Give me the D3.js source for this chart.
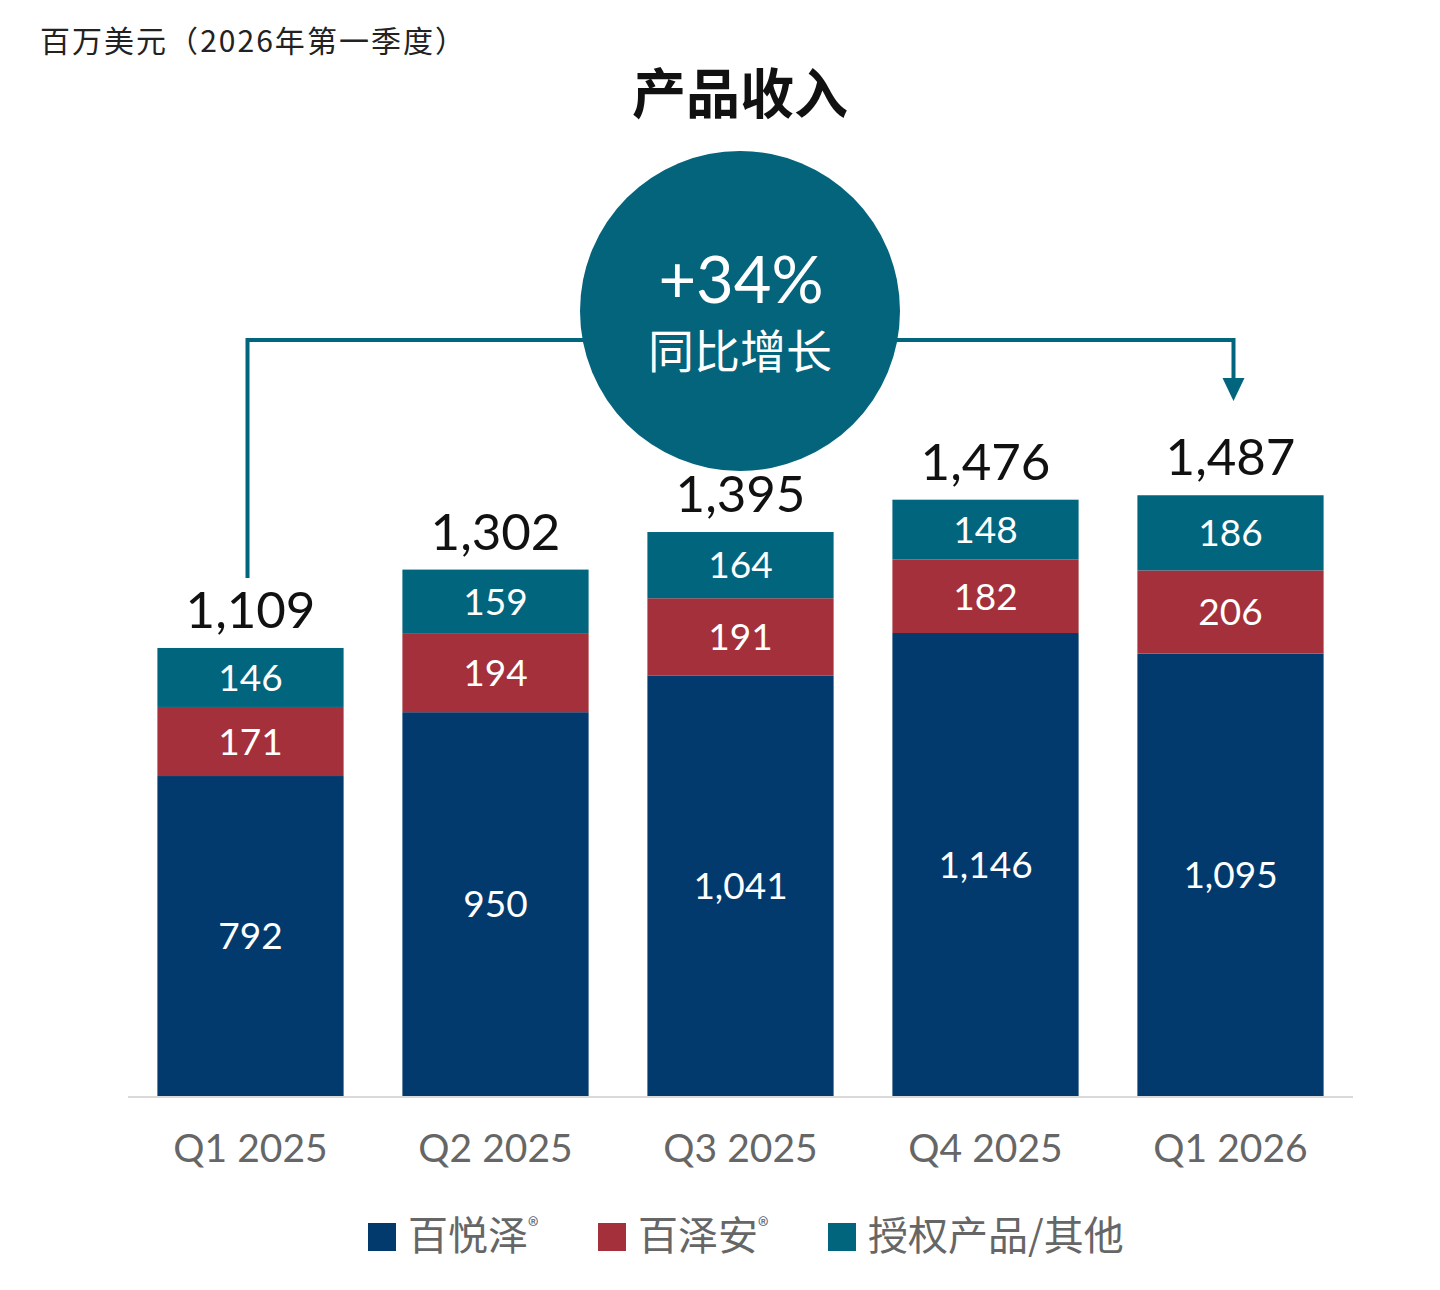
<!DOCTYPE html>
<html>
<head>
<meta charset="utf-8">
<script src="https://cdn.jsdelivr.net/npm/d3@7"></script>
<style>
  body { margin: 0; background: #fff; }
  svg { display: block; }
</style>
</head>
<body>
<div id="viz"></div>
<script>
const width = 1440;
const height = 1290;

// data
const quarters = ['Q1 2025', 'Q2 2025', 'Q3 2025', 'Q4 2025', 'Q1 2026'];
const brukinsa = [792, 950, 1041, 1146, 1095];
const tevimbra = [171, 194, 191, 182, 206];
const licensed = [146, 159, 164, 148, 186];
const totals = [1109, 1302, 1395, 1476, 1487];
const seriesNames = ['百悦泽', '百泽安', '授权产品/其他'];
const growthLabel = '+34%';
const growthText = '同比增长';

const colors = ['#023a6e', '#a3303b', '#02657e'];
const numFont = 'Lato, "Noto Sans", sans-serif';
const cjkFont = '"Noto Sans CJK SC", "Noto Sans", sans-serif';

const baseY = 1096;

const rows = quarters.map((q, i) => ({
  q, s0: brukinsa[i], s1: tevimbra[i], s2: licensed[i], total: totals[i]
}));

const x = d3.scaleBand()
  .domain(quarters)
  .range([128, 1353])
  .paddingInner(0.24)
  .paddingOuter(0.12);

const y = d3.scaleLinear()
  .domain([0, 1600])
  .range([baseY, baseY - 1600 * 0.404]);

const stack = d3.stack().keys(['s0', 's1', 's2']);
const series = stack(rows);

const fmt = d3.format(',');

const svg = d3.select('#viz').append('svg')
  .attr('width', width)
  .attr('height', height);

// subtitle + title
svg.append('text')
  .attr('x', 40).attr('y', 52)
  .attr('font-family', cjkFont)
  .attr('font-size', 30)
  .attr('fill', '#222')
  .attr('textLength', 425)
  .text('百万美元（2026年第一季度）');

svg.append('text')
  .attr('x', 740).attr('y', 114)
  .attr('text-anchor', 'middle')
  .attr('font-family', cjkFont)
  .attr('font-weight', 'bold')
  .attr('font-size', 54)
  .attr('fill', '#111')
  .text('产品收入');

// stacked bars
const layer = svg.append('g')
  .selectAll('g')
  .data(series)
  .enter()
  .append('g')
  .attr('fill', (d, i) => colors[i]);

layer.selectAll('rect')
  .data(d => d)
  .enter()
  .append('rect')
  .attr('x', d => x(d.data.q))
  .attr('y', d => y(d[1]))
  .attr('width', x.bandwidth())
  .attr('height', d => y(d[0]) - y(d[1]));

layer.selectAll('text')
  .data(d => d.map(v => ({ v, key: d.key })))
  .enter()
  .append('text')
  .attr('x', d => x(d.v.data.q) + x.bandwidth() / 2)
  .attr('y', d => (y(d.v[0]) + y(d.v[1])) / 2)
  .attr('dy', '0.36em')
  .attr('text-anchor', 'middle')
  .attr('font-family', numFont)
  .attr('font-size', 37)
  .attr('fill', '#fff')
  .text(d => fmt(d.v.data[d.key]));

// totals
svg.append('g')
  .selectAll('text')
  .data(rows)
  .enter()
  .append('text')
  .attr('x', d => x(d.q) + x.bandwidth() / 2)
  .attr('y', d => y(d.s0 + d.s1 + d.s2) - 20)
  .attr('text-anchor', 'middle')
  .attr('font-family', numFont)
  .attr('font-size', 51)
  .attr('fill', '#111')
  .text(d => fmt(d.total));

// axis line
svg.append('line')
  .attr('x1', 128).attr('x2', 1353)
  .attr('y1', baseY + 1).attr('y2', baseY + 1)
  .attr('stroke', '#d9d9d9')
  .attr('stroke-width', 2);

svg.append('g')
  .selectAll('text')
  .data(quarters)
  .enter()
  .append('text')
  .attr('x', d => x(d) + x.bandwidth() / 2)
  .attr('y', 1162)
  .attr('text-anchor', 'middle')
  .attr('font-family', numFont)
  .attr('font-size', 39)
  .attr('fill', '#666')
  .text(d => d);

// growth connector
const first = rows[0];
const last = rows[rows.length - 1];
const cx0 = x(first.q) + x.bandwidth() / 2 - 3;
const cx1 = x(last.q) + x.bandwidth() / 2 + 3;
const lineY = 340;
const teal = colors[2];

svg.append('path')
  .attr('fill', 'none')
  .attr('stroke', teal)
  .attr('stroke-width', 4)
  .attr('d', `M${cx0},${y(first.total) - 70} V${lineY} H${cx1} V${382}`);

svg.append('path')
  .attr('fill', teal)
  .attr('d', `M${cx1 - 11},${378} L${cx1 + 11},${378} L${cx1},${401} Z`);

svg.append('circle')
  .attr('cx', 740).attr('cy', 311)
  .attr('r', 160)
  .attr('fill', '#03647c');

svg.append('text')
  .attr('x', 741).attr('y', 303)
  .attr('text-anchor', 'middle')
  .attr('font-family', numFont)
  .attr('font-size', 65)
  .attr('fill', '#fff')
  .text(growthLabel);

svg.append('text')
  .attr('x', 740).attr('y', 368)
  .attr('text-anchor', 'middle')
  .attr('font-family', cjkFont)
  .attr('font-size', 46)
  .attr('fill', '#fff')
  .text(growthText);

// legend
const legendX = [368, 598, 828];
const legend = svg.append('g')
  .selectAll('g')
  .data(seriesNames)
  .enter()
  .append('g')
  .attr('transform', (d, i) => `translate(${legendX[i]},1236)`);

legend.append('rect')
  .attr('x', 0).attr('y', -13)
  .attr('width', 28).attr('height', 28)
  .attr('fill', (d, i) => colors[i]);

const lt = legend.append('text')
  .attr('x', 40).attr('y', 0)
  .attr('dy', '0.36em')
  .attr('font-family', cjkFont)
  .attr('font-size', 40)
  .attr('fill', '#666');

lt.append('tspan').text(d => d);
lt.filter((d, i) => i < 2)
  .append('tspan')
  .attr('font-size', 22)
  .attr('dy', '-0.75em')
  .text('®');
</script>
</body>
</html>
